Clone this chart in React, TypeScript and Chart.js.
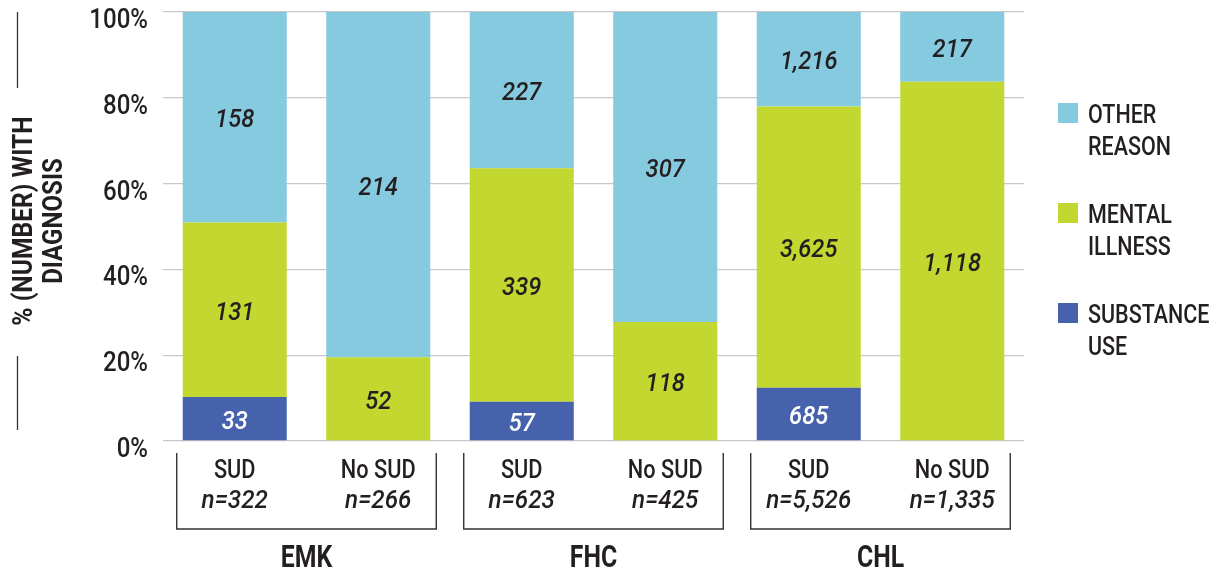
import React, { useEffect, useRef } from "react";
import { Chart, registerables } from "chart.js";

Chart.register(...registerables);

// Diagnosis counts per patient group
const groups = ["EMK", "FHC", "CHL"];
const barNames = ["SUD", "No SUD", "SUD", "No SUD", "SUD", "No SUD"];
const nValues = [322, 266, 623, 425, 5526, 1335];
const substanceUse = [33, null, 57, null, 685, null];
const mentalIllness = [131, 52, 339, 118, 3625, 1118];
const otherReason = [158, 214, 227, 307, 1216, 217];
const yTicks = [0, 20, 40, 60, 80, 100];

const seriesNames = [
  ["SUBSTANCE", "USE"],
  ["MENTAL", "ILLNESS"],
  ["OTHER", "REASON"],
];
const seriesColors = ["#4662ad", "#c2d72f", "#86cae0"];

const FAMILY = 'Roboto, "Noto Sans", sans-serif';
const TEXT = "#231f20";

const toPct = (arr: (number | null)[]) =>
  arr.map((v, i) => (v == null ? null : (v / nValues[i]) * 100));

const fmt = (v: number) => v.toLocaleString("en-US");

// Draws condensed text by squeezing the glyphs horizontally
function text(
  ctx: CanvasRenderingContext2D,
  s: string,
  x: number,
  y: number,
  font: string,
  align: CanvasTextAlign,
  sx: number,
  color = TEXT
) {
  ctx.save();
  ctx.translate(x, y);
  ctx.scale(sx, 1);
  ctx.font = font;
  ctx.textAlign = align;
  ctx.textBaseline = "alphabetic";
  ctx.fillStyle = color;
  ctx.fillText(s, 0, 0);
  ctx.restore();
}

const REG = `500 25px ${FAMILY}`;
const ITAL = `italic 500 25px ${FAMILY}`;

const decorations = {
  id: "decorations",
  afterDatasetsDraw(chart: any) {
    const ctx = chart.ctx as CanvasRenderingContext2D;
    const raw = [substanceUse, mentalIllness, otherReason];

    // Count labels inside each segment
    raw.forEach((series, d) => {
      const meta = chart.getDatasetMeta(d);
      series.forEach((v, i) => {
        if (v == null) return;
        const el = meta.data[i] as any;
        const yc = (el.y + el.base) / 2;
        text(ctx, fmt(v), el.x, yc + 10, ITAL, "center", 0.95, d === 0 ? "#ffffff" : TEXT);
      });
    });
  },
  afterDraw(chart: any) {
    const ctx = chart.ctx as CanvasRenderingContext2D;
    const area = chart.chartArea;
    const yScale = chart.scales.y;
    const meta = chart.getDatasetMeta(1);

    // Percentage ticks
    yTicks.forEach((t) => {
      const y = yScale.getPixelForValue(t);
      text(ctx, `${t}%`, 148, y + 16, `500 27px ${FAMILY}`, "right", 0.89);
    });

    // Bar names and sample sizes under the axis
    meta.data.forEach((el: any, i: number) => {
      text(ctx, barNames[i], el.x, area.bottom + 37, REG, "center", 0.87);
      text(ctx, "n=" + fmt(nValues[i]), el.x, area.bottom + 67, ITAL, "center", 0.97);
    });

    // Group brackets and group names
    ctx.save();
    ctx.strokeStyle = "#333333";
    ctx.lineWidth = 1.4;
    groups.forEach((g, gi) => {
      const a = meta.data[gi * 2] as any;
      const b = meta.data[gi * 2 + 1] as any;
      const left = a.x - a.width / 2 - 6;
      const right = b.x + b.width / 2 + 6;
      const top = area.bottom + 12;
      const bottom = area.bottom + 88;
      ctx.beginPath();
      ctx.moveTo(left, top);
      ctx.lineTo(left, bottom);
      ctx.lineTo(right, bottom);
      ctx.lineTo(right, top);
      ctx.stroke();
      text(ctx, g, (left + right) / 2, area.bottom + 126, `bold 31px ${FAMILY}`, "center", 0.8);
    });
    ctx.restore();

    // Vertical axis title with rules above and below
    ctx.save();
    ctx.translate(0, 221);
    ctx.rotate(-Math.PI / 2);
    text(ctx, "% (NUMBER) WITH", 0, 32, `bold 28px ${FAMILY}`, "center", 0.88);
    text(ctx, "DIAGNOSIS", 0, 62, `bold 28px ${FAMILY}`, "center", 0.86);
    ctx.restore();
    ctx.save();
    ctx.strokeStyle = "#333333";
    ctx.lineWidth = 1.3;
    ctx.beginPath();
    ctx.moveTo(17.5, 12);
    ctx.lineTo(17.5, 88);
    ctx.moveTo(17.5, 356);
    ctx.lineTo(17.5, 430);
    ctx.stroke();
    ctx.restore();

    // Legend, top entry first
    const order = [2, 1, 0];
    order.forEach((s, k) => {
      const top = 103 + k * 100;
      ctx.fillStyle = seriesColors[s];
      ctx.fillRect(1058, top, 20, 20);
      text(ctx, seriesNames[s][0], 1088, top + 20, REG, "left", 0.86);
      text(ctx, seriesNames[s][1], 1088, top + 52, REG, "left", 0.86);
    });
  },
};

export default function App() {
  const ref = useRef<HTMLCanvasElement>(null);

  useEffect(() => {
    const chart = new Chart(ref.current!, {
      type: "bar",
      data: {
        labels: barNames.map((b, i) => `${b} ${i}`),
        datasets: [
          { label: "SUBSTANCE USE", data: toPct(substanceUse), backgroundColor: seriesColors[0] },
          { label: "MENTAL ILLNESS", data: toPct(mentalIllness), backgroundColor: seriesColors[1] },
          { label: "OTHER REASON", data: toPct(otherReason), backgroundColor: seriesColors[2] },
        ],
      },
      options: {
        animation: false,
        responsive: true,
        maintainAspectRatio: false,
        layout: { padding: { left: 0, right: 196, top: 12, bottom: 0 } },
        datasets: { bar: { categoryPercentage: 1, barPercentage: 0.725 } },
        plugins: { legend: { display: false }, tooltip: { enabled: false } },
        scales: {
          x: {
            stacked: true,
            grid: { display: false },
            border: { display: false },
            ticks: { display: false },
            afterFit: (s: any) => {
              s.height = 130;
              s.paddingLeft = 0;
              s.paddingRight = 0;
            },
          },
          y: {
            stacked: true,
            min: 0,
            max: 100,
            afterBuildTicks: (s: any) => {
              s.ticks = yTicks.map((v) => ({ value: v }));
            },
            afterFit: (s: any) => {
              s.width = 163;
              s.paddingTop = 0;
              s.paddingBottom = 0;
            },
            grid: { color: "#c8c8c8", lineWidth: 1.3, drawTicks: false },
            border: { display: false },
            ticks: { display: false },
          },
        },
      },
      plugins: [decorations],
    });
    return () => chart.destroy();
  }, []);

  return (
    <div style={{ position: "fixed", left: 0, top: 0, width: 1220, height: 571, background: "#fff" }}>
      <canvas ref={ref} />
    </div>
  );
}
